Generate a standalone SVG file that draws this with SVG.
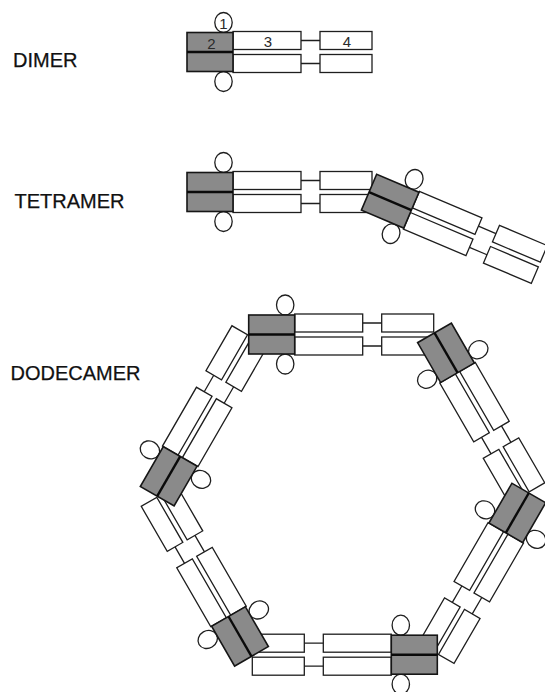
<svg xmlns="http://www.w3.org/2000/svg" xmlns:xlink="http://www.w3.org/1999/xlink" width="545" height="692" viewBox="0 0 545 692">
  <style>
    .w { fill: #ffffff; stroke: #1e1e1e; stroke-width: 1.3; }
    .ln { fill: none; stroke: #1e1e1e; stroke-width: 1.3; }
    .c { fill: #ffffff; stroke: #1e1e1e; stroke-width: 1.3; }
    .g { fill: #8a8a8a; stroke: #161616; stroke-width: 1.6; }
    .mid { fill: none; stroke: #0a0a0a; stroke-width: 2.4; }
    .lbl { font-family: "Liberation Sans", Arial, sans-serif; font-size: 20px; fill: #111111; stroke: #111111; stroke-width: 0.25; }
    .num { font-family: "Liberation Sans", Arial, sans-serif; font-size: 15px; fill: #2a2a2a; text-anchor: middle; }
  </style>
  <defs>
    <!-- the two chains of domains 3 and 4, with their linkers -->
    <g id="arms">
      <rect class="w" x="23" y="-20.5" width="68" height="18"/>
      <rect class="w" x="110" y="-20.5" width="52" height="18"/>
      <rect class="w" x="23" y="2.5" width="68" height="18"/>
      <rect class="w" x="110" y="2.5" width="52" height="18"/>
      <path class="ln" d="M91 -11.5H110M91 11.5H110"/>
    </g>
    <!-- domain 1 loops and the paired domain 2 core -->
    <g id="core">
      <ellipse class="c" cx="13.5" cy="-29.5" rx="8.7" ry="10"/>
      <ellipse class="c" cx="13.5" cy="29.5" rx="8.7" ry="10"/>
      <rect class="g" x="-23" y="-19.5" width="46" height="39"/>
      <path class="mid" d="M-23 0H23"/>
    </g>
  </defs>

  <!-- row labels -->
  <g id="labels">
    <text class="lbl" x="13" y="67">DIMER</text>
    <text class="lbl" x="14.5" y="208">TETRAMER</text>
    <text class="lbl" x="10.5" y="380">DODECAMER</text>
  </g>

  <!-- dimer -->
  <g id="dimer" transform="translate(210 52)">
    <use xlink:href="#arms"/>
    <use xlink:href="#core"/>
    <text class="num" x="13.5" y="-23.5">1</text>
    <text class="num" x="1.5" y="-3">2</text>
    <text class="num" x="58" y="-5.5">3</text>
    <text class="num" x="137" y="-5.5">4</text>
  </g>

  <!-- tetramer: two dimers joined at a bend -->
  <g id="tetramer">
    <g id="tetramer-arms">
      <use xlink:href="#arms" transform="translate(210 192)"/>
      <use xlink:href="#arms" transform="translate(390.2 201.2) rotate(23)"/>
    </g>
    <g id="tetramer-cores">
      <use xlink:href="#core" transform="translate(210 192)"/>
      <use xlink:href="#core" transform="translate(390.2 201.2) rotate(23)"/>
    </g>
  </g>

  <!-- dodecamer: six dimers closed into a hexagonal ring -->
  <g id="dodecamer" transform="translate(343 494.6)">
    <g id="dodecamer-arms">
      <use xlink:href="#arms" transform="rotate(0) translate(-71.3 -160.1)"/>
      <use xlink:href="#arms" transform="rotate(60) translate(-71.3 -160.1)"/>
      <use xlink:href="#arms" transform="rotate(120) translate(-71.3 -160.1)"/>
      <use xlink:href="#arms" transform="rotate(180) translate(-71.3 -160.1)"/>
      <use xlink:href="#arms" transform="rotate(240) translate(-71.3 -160.1)"/>
      <use xlink:href="#arms" transform="rotate(300) translate(-71.3 -160.1)"/>
    </g>
    <g id="dodecamer-cores">
      <use xlink:href="#core" transform="rotate(0) translate(-71.3 -160.1)"/>
      <use xlink:href="#core" transform="rotate(60) translate(-71.3 -160.1)"/>
      <use xlink:href="#core" transform="rotate(120) translate(-71.3 -160.1)"/>
      <use xlink:href="#core" transform="rotate(180) translate(-71.3 -160.1)"/>
      <use xlink:href="#core" transform="rotate(240) translate(-71.3 -160.1)"/>
      <use xlink:href="#core" transform="rotate(300) translate(-71.3 -160.1)"/>
    </g>
  </g>
</svg>
